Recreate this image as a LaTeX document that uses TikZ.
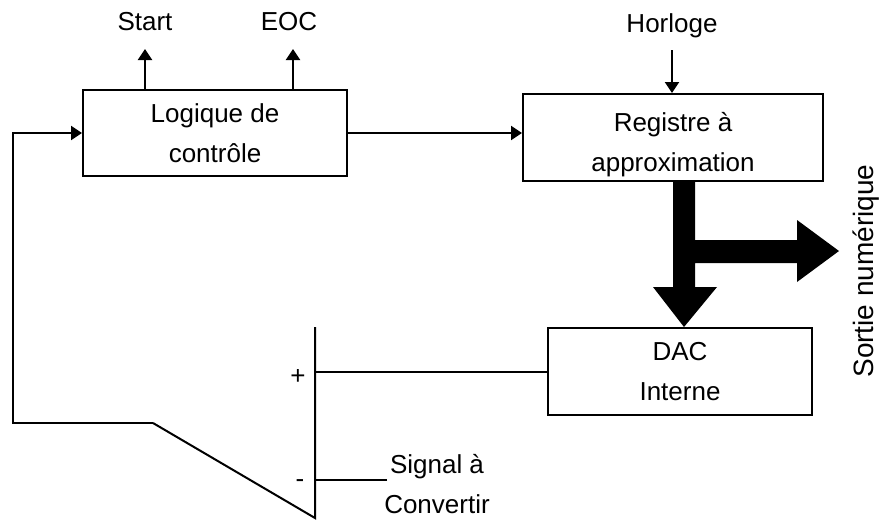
\documentclass[tikz,border=0pt]{standalone}
\usepackage{fontspec}
\setmainfont{Liberation Sans}
\usetikzlibrary{positioning,arrows.meta}

\begin{document}
\begin{tikzpicture}[x=0.5pt,y=-0.5pt,>={Triangle[length=5.5pt,width=7pt]},line width=1pt,
  bloc/.style={draw,minimum width=132pt,minimum height=43pt,inner sep=0pt,align=center,font=\fontsize{13}{20}\selectfont},
  lbl/.style={inner sep=0pt,align=center,font=\fontsize{13}{20}\selectfont}]
\useasboundingbox (0,0) rectangle (881,520);
% blocs
\node[bloc] (logic) at (215,133) {Logique de\\contrôle};
\node[bloc,minimum width=150pt,minimum height=43.5pt] (reg) at (673,137.5) {\rule{0pt}{17pt}Registre à\\approximation};
\node[bloc,minimum height=43.5pt] (dac) at (680,371.5) {DAC\\Interne};
% etiquettes
\node[lbl] (start) at (145,22) {Start};
\node[lbl] (eoc) at (289,22) {EOC};
\node[lbl] (clk) at (672,26) {Horloge};
\node[lbl] (plus) at (298,377) {+};
\node[lbl] (minus) at (300,484) {-};
\node[lbl] (sig) at (437,484) {Signal à\\Convertir};
\node[lbl,rotate=90,font=\fontsize{14}{20}\selectfont] (sortie) at (866,271) {Sortie numérique};
% points libres
\coordinate (startend) at (145,49);
\coordinate (eocend) at (293,49);
\coordinate (clkend) at (672,50);
\coordinate (cmptop) at (315,327);
\coordinate (cmpbot) at (315,518);
\coordinate (cmpout) at (153,423);
\coordinate (fbk) at (13,423);
\coordinate (sigin) at (387,480);
% liaisons
\draw[->] (logic.north -| startend) -- (startend);
\draw[->] (logic.north -| eocend) -- (eocend);
\draw[->] (clkend) -- (clkend |- reg.north);
\draw[->] (logic.east) -- (reg.west |- logic.east);
\draw (cmptop) -- (cmpbot) -- (cmpout);
\draw[->] (cmpout) -- (fbk) |- (logic.west);
\draw (dac.west) -- (cmptop |- dac.west);
\draw (sigin) -- (cmptop |- sigin);
% bus de sortie
\fill (673,181) -- (673,287) -- (653,287) -- (684,327) -- (717,287) -- (695,287)
  -- (695,263) -- (797,263) -- (797,282) -- (839,251) -- (797,220) -- (797,240)
  -- (695,240) -- (695,181) -- cycle;
\end{tikzpicture}
\end{document}
